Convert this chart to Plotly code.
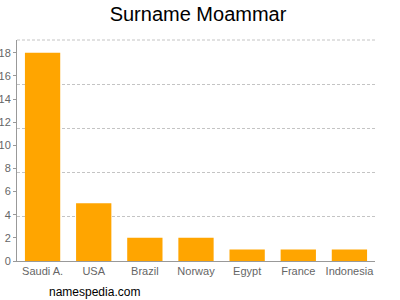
import plotly.graph_objects as go

countries = ["Saudi A.", "USA", "Brazil", "Norway", "Egypt", "France", "Indonesia"]
counts = [18, 5, 2, 2, 1, 1, 1]
ytick_vals = [0, 2, 4, 6, 8, 10, 12, 14, 16, 18]

ymax = 19.1
grid_vals = [ymax * i / 5 for i in range(1, 5)]

fig = go.Figure()
fig.add_trace(go.Bar(x=countries, y=counts, marker=dict(color="#FFA500", line=dict(width=0)),
                     hoverinfo="skip"))
fig.add_trace(go.Scatter(x=countries, y=[None]*len(countries), yaxis="y2", showlegend=False,
                         hoverinfo="skip"))

fig.update_layout(
    width=400, height=300,
    margin=dict(l=17, r=25, t=40, b=39),
    paper_bgcolor="white", plot_bgcolor="white",
    showlegend=False,
    bargap=0.31,
    font=dict(family="Liberation Sans, Arial, sans-serif", color="#666666", size=11),
    title=dict(text="Surname Moammar", x=0.495, xanchor="center", y=0.953, yanchor="middle",
               font=dict(size=20, color="#000000")),
    xaxis=dict(showline=True, linecolor="#999999", linewidth=1, ticks="", showgrid=False,
               tickfont=dict(size=11, color="#666666"), automargin=False, ticklabelstandoff=0),
    yaxis=dict(range=[0, ymax], tickvals=ytick_vals, showline=True, linecolor="#999999",
               linewidth=1, ticks="outside", ticklen=3, tickcolor="#999999", showgrid=False,
               zeroline=False, tickfont=dict(size=11, color="#666666"), ticklabelstandoff=0,
               automargin=False),
    yaxis2=dict(range=[0, ymax], overlaying="y", side="right", showticklabels=False,
                tickvals=grid_vals, showgrid=True, automargin=False,
                gridcolor="#c4c4c4", griddash="3px,2px", gridwidth=1, zeroline=False, showline=False),
    shapes=[dict(type="line", xref="paper", yref="paper", x0=0, x1=1, y0=1, y1=1,
                 line=dict(color="#c4c4c4", width=1, dash="3px,2px"))],
)
fig.add_annotation(text="namespedia.com", xref="paper", yref="paper", x=0.084, y=-0.14,
                   xanchor="left", yanchor="middle", showarrow=False,
                   font=dict(size=12, color="#000000"))
fig.write_html("out.html")
